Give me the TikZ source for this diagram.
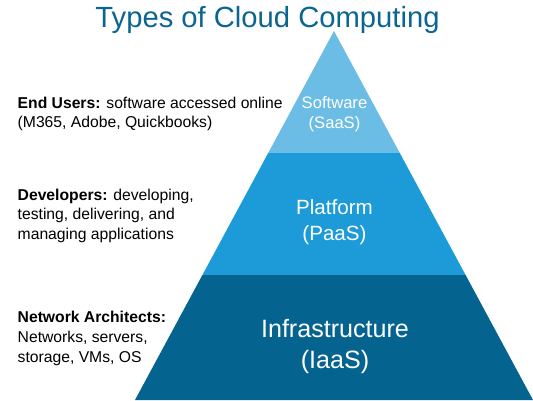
\documentclass[tikz,border=0pt]{standalone}
\usepackage{fontspec}
\setmainfont{Liberation Sans}
\usetikzlibrary{positioning}
\definecolor{saasblue}{RGB}{108,189,229}
\definecolor{paasblue}{RGB}{29,155,216}
\definecolor{iaasblue}{RGB}{4,99,143}
\definecolor{titleblue}{RGB}{11,101,147}

\begin{document}
\begin{tikzpicture}[x=1pt,y=-1pt, every node/.style={inner sep=0pt},
  side/.style={anchor=base west,align=left,text=black,font=\fontsize{15.7}{19.8}\selectfont},
  layer/.style={anchor=base,align=center,text=white}]
\useasboundingbox (0,0) rectangle (533,400);
% pyramid layers
\fill[saasblue] (334,31) -- (399.8,153) -- (268.2,153) -- cycle;
\fill[paasblue] (268.2,153) -- (399.8,153) -- (465.6,275) -- (202.4,275) -- cycle;
\fill[iaasblue] (202.4,275) -- (465.6,275) -- (533,400) -- (135,400) -- cycle;
\node[anchor=base,text=titleblue,font=\fontsize{29.2}{32}\selectfont] (title) at (267.5,27.3) {Types of Cloud Computing};
% base anchor sits on the last line
\node[layer,font=\fontsize{16.6}{19.8}\selectfont] (saas) at (334.5,128) {Software\\(SaaS)};
\node[layer,font=\fontsize{20.6}{26}\selectfont] (paas) at (334.5,240) {Platform\\(PaaS)};
\node[layer,font=\fontsize{25.1}{31}\selectfont] (iaas) at (335,368) {Infrastructure\\(IaaS)};
% who uses each layer
\node[side] (users) at (17.5,127.8) {\textbf{End Users:} software accessed online\\(M365, Adobe, Quickbooks)};
\node[side] (devs) at (17.5,239.6) {\textbf{Developers:} developing,\\testing, delivering, and\\managing applications};
\node[side] (archs) at (17.5,362.1) {\textbf{Network Architects:}\\Networks, servers,\\storage, VMs, OS};
\end{tikzpicture}
\end{document}
